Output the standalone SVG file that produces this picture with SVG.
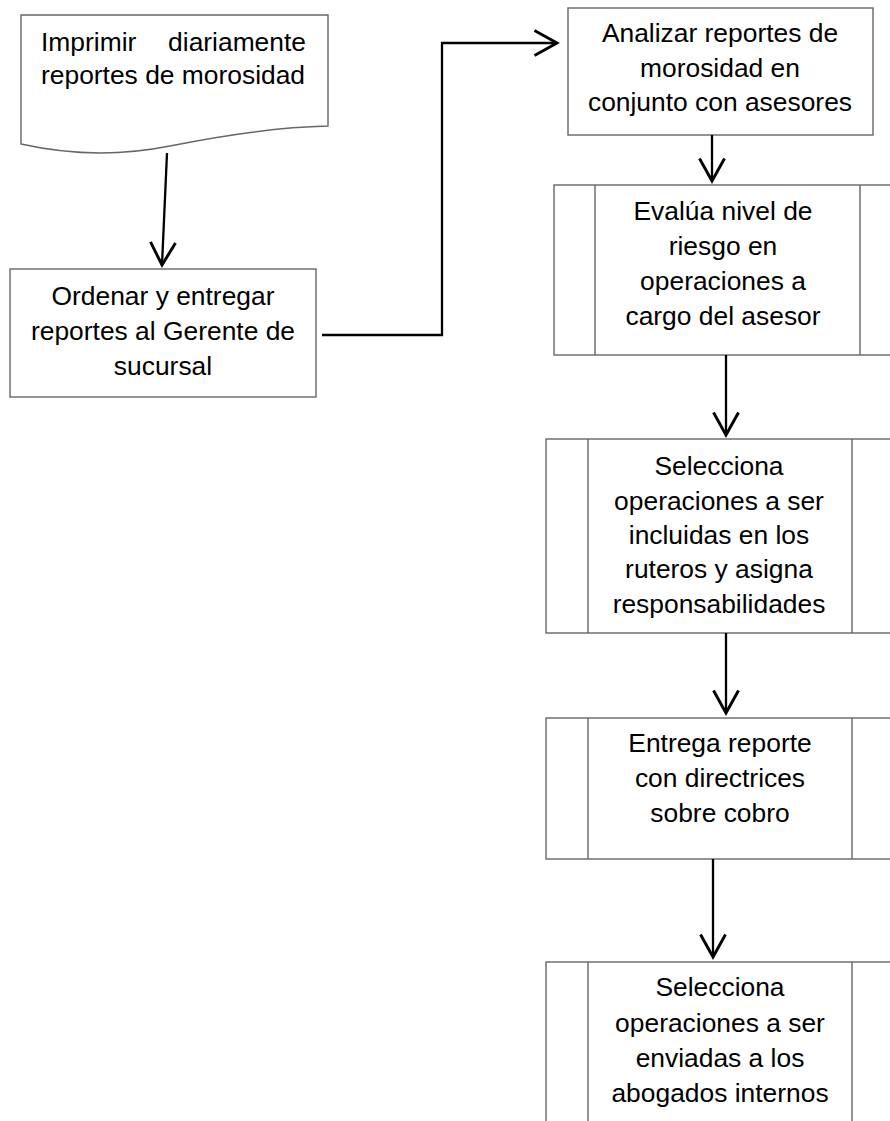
<svg xmlns="http://www.w3.org/2000/svg" width="890" height="1121" viewBox="0 0 890 1121">
  <style>
    .box { fill: #ffffff; stroke: #666666; stroke-width: 1.4; }
    .div { stroke: #666666; stroke-width: 1.4; }
    .lbl { font-family: "Liberation Sans", Arial, sans-serif; font-size: 26.4px; fill: #000000; text-anchor: middle; }
    .lft { text-anchor: start; }
    .rgt { text-anchor: end; }
    .link { fill: none; stroke: #000000; stroke-width: 2.3; marker-end: url(#vhead); }
  </style>
  <defs>
    <marker id="vhead" markerUnits="userSpaceOnUse" markerWidth="30" markerHeight="30" viewBox="-20 -12 24 24" refX="0" refY="0" orient="auto">
      <path d="M-18,-10 L0,0 L-18,10" fill="none" stroke="#000000" stroke-width="2.3"/>
    </marker>
  </defs>

  <rect width="890" height="1121" fill="#ffffff"/>

  <!-- document: print daily reports -->
  <g id="print-reports">
    <path class="box" d="M21,15 L328,15 L328,126 C280,127 220,136 170,146 C120,156 70,155 21,144 Z"/>
    <text class="lbl lft" x="41" y="51">Imprimir</text>
    <text class="lbl rgt" x="306" y="51">diariamente</text>
    <text class="lbl lft" x="41" y="84">reportes de morosidad</text>
  </g>

  <!-- process: sort and deliver -->
  <g id="sort-deliver">
    <rect class="box" x="10" y="269" width="306" height="128"/>
    <text class="lbl" x="163" y="305">Ordenar y entregar</text>
    <text class="lbl" x="163" y="340">reportes al Gerente de</text>
    <text class="lbl" x="163" y="375">sucursal</text>
  </g>

  <!-- process: analyse with advisors -->
  <g id="analyze-reports">
    <rect class="box" x="568" y="8" width="305" height="127"/>
    <text class="lbl" x="720" y="42">Analizar reportes de</text>
    <text class="lbl" x="720" y="77">morosidad en</text>
    <text class="lbl" x="720" y="111">conjunto con asesores</text>
  </g>

  <!-- predefined process: evaluate risk -->
  <g id="evaluate-risk">
    <rect class="box" x="554" y="185" width="350" height="170"/>
    <line class="div" x1="595" y1="185" x2="595" y2="355"/>
    <line class="div" x1="860" y1="185" x2="860" y2="355"/>
    <text class="lbl" x="723" y="220">Evalúa nivel de</text>
    <text class="lbl" x="723" y="255">riesgo en</text>
    <text class="lbl" x="723" y="290">operaciones a</text>
    <text class="lbl" x="723" y="325">cargo del asesor</text>
  </g>

  <!-- predefined process: select for route lists -->
  <g id="select-routes">
    <rect class="box" x="546" y="439" width="360" height="194"/>
    <line class="div" x1="588" y1="439" x2="588" y2="633"/>
    <line class="div" x1="852" y1="439" x2="852" y2="633"/>
    <text class="lbl" x="719" y="475">Selecciona</text>
    <text class="lbl" x="719" y="510">operaciones a ser</text>
    <text class="lbl" x="719" y="544">incluidas en los</text>
    <text class="lbl" x="719" y="578">ruteros y asigna</text>
    <text class="lbl" x="719" y="613">responsabilidades</text>
  </g>

  <!-- predefined process: deliver collection guidelines -->
  <g id="deliver-guidelines">
    <rect class="box" x="546" y="718" width="360" height="141"/>
    <line class="div" x1="588" y1="718" x2="588" y2="859"/>
    <line class="div" x1="852" y1="718" x2="852" y2="859"/>
    <text class="lbl" x="720" y="752">Entrega reporte</text>
    <text class="lbl" x="720" y="787">con directrices</text>
    <text class="lbl" x="720" y="822">sobre cobro</text>
  </g>

  <!-- predefined process: select for in-house lawyers -->
  <g id="select-lawyers">
    <rect class="box" x="546" y="962" width="360" height="200"/>
    <line class="div" x1="588" y1="962" x2="588" y2="1130"/>
    <line class="div" x1="852" y1="962" x2="852" y2="1130"/>
    <text class="lbl" x="720" y="996">Selecciona</text>
    <text class="lbl" x="720" y="1032">operaciones a ser</text>
    <text class="lbl" x="720" y="1067">enviadas a los</text>
    <text class="lbl" x="720" y="1102">abogados internos</text>
  </g>

  <!-- connectors -->
  <g id="connectors">
    <path class="link" d="M167,153 L162,265"/>
    <path class="link" d="M322,335 L442,335 L442,43 L557,43"/>
    <path class="link" d="M712,135 L712,181"/>
    <path class="link" d="M726,355 L726,435"/>
    <path class="link" d="M726,633 L726,713"/>
    <path class="link" d="M713,859 L713,957"/>
  </g>
</svg>
